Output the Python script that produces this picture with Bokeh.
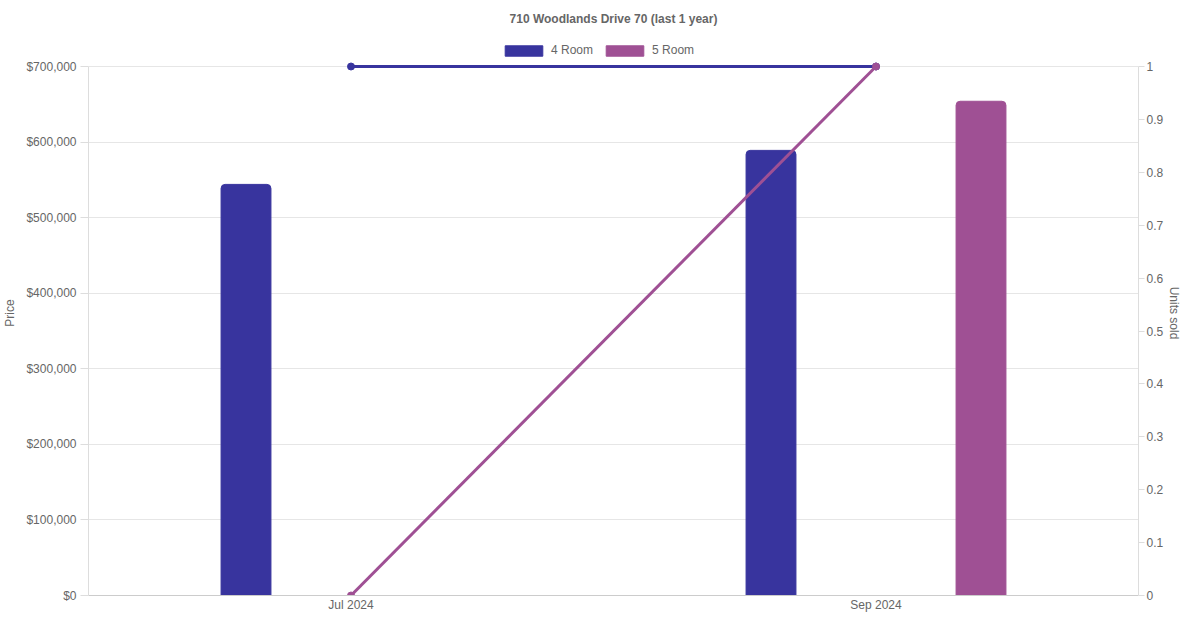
from bokeh.plotting import figure
from bokeh.models import (FactorRange, Range1d, LinearAxis, FixedTicker, NumeralTickFormatter,
                          Legend, LegendItem, ColumnDataSource, Title)
from bokeh.transform import dodge
from bokeh.embed import file_html
from bokeh.resources import INLINE

months = ["Jul 2024", "Sep 2024"]
price_4room_months = ["Jul 2024", "Sep 2024"]
price_4room = [544000, 589000]
price_5room_months = ["Sep 2024"]
price_5room = [654000]
units_4room = [1, 1]
units_5room = [0, 1]
price_ticks = [0, 100000, 200000, 300000, 400000, 500000, 600000, 700000]
unit_ticks = [0, 0.1, 0.2, 0.3, 0.4, 0.5, 0.6, 0.7, 0.8, 0.9, 1]

C4 = "#38349e"
C5 = "#9f5094"
FONT = "Liberation Sans"
TXT = "#666666"

# layout (pixels): frame top/bottom and where the data area should start
FRAME_TOP = 30
FRAME_BOTTOM = 595
DATA_TOP = 66
ext = (FRAME_BOTTOM - FRAME_TOP) / (FRAME_BOTTOM - DATA_TOP)
P_MAX = price_ticks[-1]
U_MAX = unit_ticks[-1]

p = figure(width=1184, height=614, x_range=FactorRange(factors=months, range_padding=0),
           y_range=Range1d(0, P_MAX * ext), output_backend="svg", toolbar_location=None,
           min_border_left=88, min_border_right=0, min_border_bottom=0, min_border_top=FRAME_TOP)
p.extra_y_ranges = {"units": Range1d(0, U_MAX * ext)}
p.outline_line_color = None
p.background_fill_color = "white"

t = Title(text="710 Woodlands Drive 70 (last 1 year)", align="center", text_font=FONT,
          text_font_size="12px", text_font_style="bold", text_color=TXT, standoff=10, offset=0)
p.add_layout(t, "above")

src4 = ColumnDataSource(dict(m=price_4room_months, v=price_4room))
src5 = ColumnDataSource(dict(m=price_5room_months, v=price_5room))
b4 = p.vbar(x=dodge("m", -0.2, range=p.x_range), top="v", width=0.095, source=src4,
            fill_color=C4, line_color=C4, line_width=1, border_radius=(4, 4, 0, 0))
b5 = p.vbar(x=dodge("m", 0.2, range=p.x_range), top="v", width=0.095, source=src5,
            fill_color=C5, line_color=C5, line_width=1, border_radius=(4, 4, 0, 0))

lsrc4 = ColumnDataSource(dict(m=months, u=units_4room))
lsrc5 = ColumnDataSource(dict(m=months, u=units_5room))
p.line(x="m", y="u", source=lsrc4, y_range_name="units", line_color=C4, line_width=3)
p.scatter(x="m", y="u", source=lsrc4, y_range_name="units", size=7, fill_color=C4, line_color=C4)
p.line(x="m", y="u", source=lsrc5, y_range_name="units", line_color=C5, line_width=3)
p.scatter(x="m", y="u", source=lsrc5, y_range_name="units", size=7, fill_color=C5, line_color=C5)

yl = p.yaxis[0]
yl.ticker = FixedTicker(ticks=price_ticks)
yl.formatter = NumeralTickFormatter(format="$0,0")
yl.axis_label = "Price"
yl.bounds = (0, P_MAX)

yr = LinearAxis(y_range_name="units", ticker=FixedTicker(ticks=unit_ticks), axis_label="Units sold")
yr.bounds = (0, U_MAX)
p.add_layout(yr, "right")

for ax in [yl, yr]:
    ax.axis_line_color = "#dddddd"
    ax.major_tick_line_color = "#dddddd"
    ax.major_tick_in = 0
    ax.minor_tick_line_color = None
    ax.major_label_text_font = FONT
    ax.major_label_text_font_size = "12px"
    ax.major_label_text_color = TXT
    ax.axis_label_text_font = FONT
    ax.axis_label_text_font_size = "12px"
    ax.axis_label_text_font_style = "normal"
    ax.axis_label_text_color = TXT
yl.major_tick_out = 8
yl.major_label_standoff = 4
yl.axis_label_standoff = 6
yr.major_tick_out = 6
yr.major_label_standoff = 2
yr.axis_label_standoff = 1

xa = p.xaxis[0]
xa.axis_line_color = "#cccccc"
xa.major_tick_line_color = None
xa.major_tick_out = 0
xa.minor_tick_line_color = None
xa.major_label_text_font = FONT
xa.major_label_text_font_size = "12px"
xa.major_label_text_color = TXT
xa.major_label_standoff = 2

p.xgrid.grid_line_color = None
p.ygrid.grid_line_color = "#e6e6e6"
p.ygrid.ticker = FixedTicker(ticks=price_ticks)
p.ygrid.bounds = (0, P_MAX)

legend = Legend(items=[LegendItem(label="4 Room", renderers=[b4]),
                       LegendItem(label="5 Room", renderers=[b5])],
                orientation="horizontal", location=(412, FRAME_BOTTOM - 57),
                glyph_width=47, glyph_height=13, label_height=12,
                label_text_font=FONT, label_text_font_size="12px", label_text_color=TXT,
                label_standoff=4, spacing=8, padding=4, margin=0,
                border_line_color=None, background_fill_alpha=0)
p.add_layout(legend, "center")

open("out.html", "w").write(file_html(p, INLINE))
